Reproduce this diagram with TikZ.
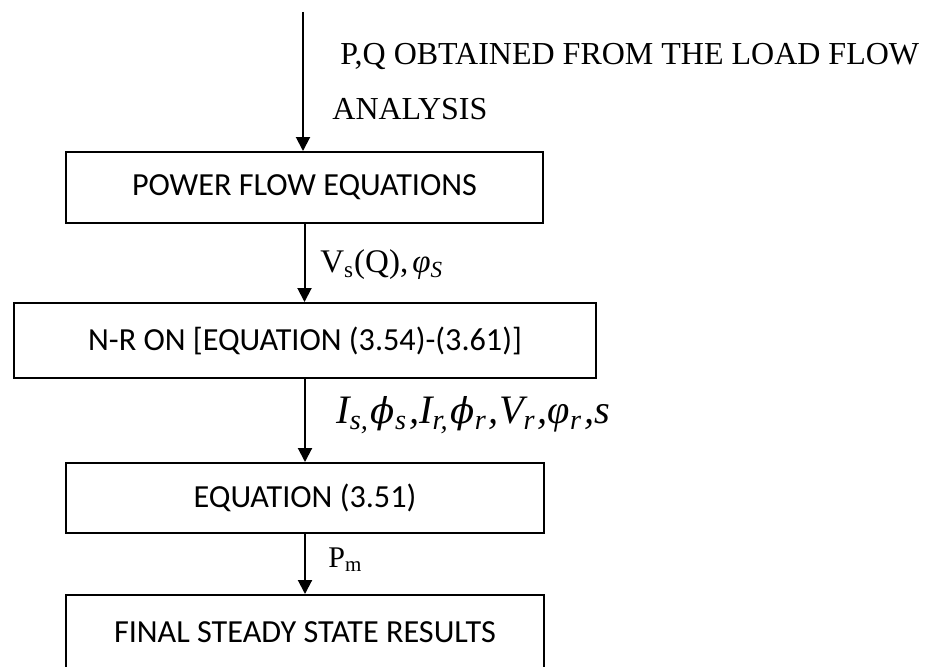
\documentclass[tikz,border=0pt]{standalone}
\usepackage{fontspec}
\setmainfont{Liberation Serif}
\newfontfamily\boxfont{Carlito}
\newfontfamily\phifont[Scale=0.88]{DejaVu Serif}
\usetikzlibrary{arrows.meta, positioning}
\tikzstyle{stage} = [rectangle, draw=black, line width=1pt, inner sep=0pt, text centered, font=\boxfont\fontsize{16.1}{19}\selectfont]
\tikzstyle{arrow} = [line width=1pt,-{Triangle[length=7pt,width=7pt]}]
\tikzstyle{note}  = [anchor=base west, inner sep=0pt]
\newcommand{\lo}[1]{\textsubscript{#1}}

\begin{document}
\begin{tikzpicture}[x=0.5pt, y=0.5pt]
  \clip (0,0) rectangle (935,666);

  % Stages
  \node[stage, minimum width=238.5pt, minimum height=35.5pt] (pf) at (304.5,478.5) {POWER FLOW EQUATIONS};
  \node[stage, minimum width=291pt, minimum height=37.5pt] (nr) at (305,325.5) {N-R ON [EQUATION (3.54)-(3.61)]};
  \node[stage, minimum width=239pt, minimum height=35pt] (eq) at (305,168) {EQUATION (3.51)};
  \node[stage, minimum width=239pt, minimum height=37pt] (res) at (305,34) {FINAL STEADY STATE RESULTS};

  % Input from load flow
  \coordinate (src) at (303,654);
  \node[note, font=\fontsize{16}{19}\selectfont] (lf1) at (340,602) {P,Q OBTAINED FROM THE LOAD FLOW};
  \node[note, font=\fontsize{16}{19}\selectfont] (lf2) at (332,547) {ANALYSIS};

  % Arrows
  \draw[arrow] (src) -- (src |- pf.north);
  \draw[arrow] (pf.south) -- (pf.south |- nr.north);
  \draw[arrow] (nr.south) -- (nr.south |- eq.north);
  \draw[arrow] (eq.south) -- (eq.south |- res.north);

  % Labels
  \node[note, font=\fontsize{16.5}{20}\selectfont] (vs) at (320,394) {V\lo{s}(Q),\kern2pt\textit{φ\lo{S}}};
  \node[note, font=\fontsize{20.2}{24}\selectfont] (cur) at (336,243)
    {\textit{I\lo{s,}\kern1pt{\phifont ϕ}\lo{s}\kern1pt,I\lo{r,}\kern1pt{\phifont ϕ}\lo{r}\kern1pt,V\lo{r}\kern1pt,φ\lo{r}\kern1pt,s}};
  \node[note, font=\fontsize{15}{18}\selectfont] (pm) at (328,99) {P\lo{m}};

\end{tikzpicture}
\end{document}
